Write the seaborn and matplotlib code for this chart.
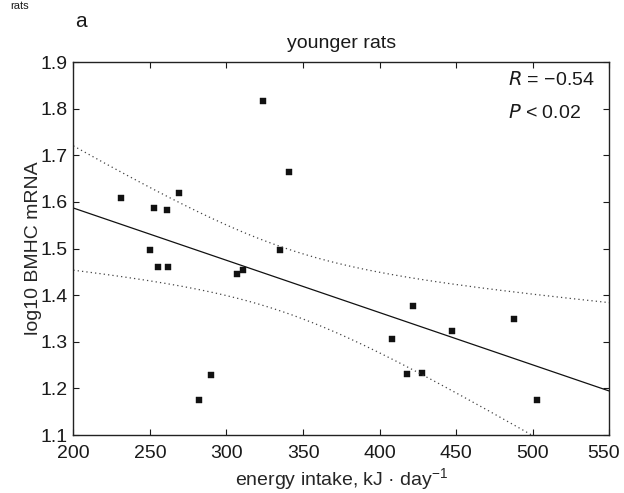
import numpy as np
import pandas as pd
import matplotlib.pyplot as plt
import matplotlib.transforms as mtransforms
import seaborn as sns

# energy intake (kJ/day) and log10 BMHC mRNA
energy = [324, 341, 269, 231, 253, 261, 250, 335, 255, 262, 307, 311,
          290, 282, 422, 447, 488, 408, 418, 428, 503]
bmhc = [1.817, 1.664, 1.619, 1.609, 1.586, 1.582, 1.497, 1.497, 1.461, 1.461, 1.445, 1.455,
        1.228, 1.175, 1.376, 1.324, 1.348, 1.306, 1.231, 1.233, 1.175]

x_ticks = [200, 250, 300, 350, 400, 450, 500, 550]
y_ticks = [1.1, 1.2, 1.3, 1.4, 1.5, 1.6, 1.7, 1.8, 1.9]

df = pd.DataFrame({'energy': energy, 'bmhc': bmhc})

# least squares fit and 95% confidence band of the mean
x = df['energy'].values
y = df['bmhc'].values
n = len(x)
slope, intercept = np.polyfit(x, y, 1)
resid = y - (intercept + slope * x)
s = np.sqrt(np.sum(resid ** 2) / (n - 2))
sxx = np.sum((x - x.mean()) ** 2)
t_crit = 2.093  # t(0.975, df=19)

grid = np.linspace(200, 550, 200)
fit = intercept + slope * grid
half = t_crit * s * np.sqrt(1 / n + (grid - x.mean()) ** 2 / sxx)
band = pd.DataFrame({'energy': grid, 'fit': fit, 'upper': fit + half, 'lower': fit - half})

sns.set_style('ticks')
plt.rcParams['font.family'] = ['Liberation Sans', 'DejaVu Sans']
plt.rcParams['text.color'] = '#1a1a1a'

fig = plt.figure(figsize=(6.24, 4.93), dpi=100)
ax = fig.add_axes([0.1175, 0.1176, 0.859, 0.7566])

sns.lineplot(data=band, x='energy', y='fit', ax=ax, color='#111111', lw=0.9)
sns.lineplot(data=band, x='energy', y='upper', ax=ax, color='#444444', lw=0.9,
             linestyle=(0, (1, 2.5)))
sns.lineplot(data=band, x='energy', y='lower', ax=ax, color='#444444', lw=0.9,
             linestyle=(0, (1, 2.5)))
sns.scatterplot(data=df, x='energy', y='bmhc', ax=ax, marker='s', s=22,
                color='#111111', edgecolor='#111111', linewidth=0.3)

ax.set_xlim(200, 550)
ax.set_ylim(1.1, 1.9)
ax.set_xticks(x_ticks)
ax.set_yticks(y_ticks)
ax.set_yticklabels([f'{v:.1f}' for v in y_ticks])
ax.tick_params(direction='in', length=4, width=0.8, top=True, right=True,
               labelsize=14, colors='#1a1a1a')
ax.tick_params(axis='x', pad=7)
ax.tick_params(axis='y', pad=4)
for sp in ax.spines.values():
    sp.set_linewidth(1.0)
    sp.set_color('#222222')

# the last x label sits slightly left of its tick so it stays inside the figure
last = ax.get_xticklabels()[-1]
last.set_transform(last.get_transform() +
                   mtransforms.ScaledTranslation(-4 / 72, 0, fig.dpi_scale_trans))

ax.set_xlabel('energy intake, kJ · day$^{\\mathregular{-1}}$', fontsize=14, labelpad=3)
ax.set_ylabel('log10 BMHC mRNA', fontsize=14, labelpad=-1)
ax.set_title('younger rats', fontsize=14, pad=10)

ax.text(0.811, 0.952, '$\\it{R}$ = \u22120.54', transform=ax.transAxes, fontsize=14,
        ha='left', va='center')
ax.text(0.811, 0.862, '$\\it{P}$ < 0.02', transform=ax.transAxes, fontsize=14,
        ha='left', va='center')

fig.text(0.016, 0.998, 'rats', fontsize=8, ha='left', va='top')
fig.text(0.13, 0.957, 'a', fontsize=15, ha='center', va='center')

plt.savefig('out.png', dpi=100)
